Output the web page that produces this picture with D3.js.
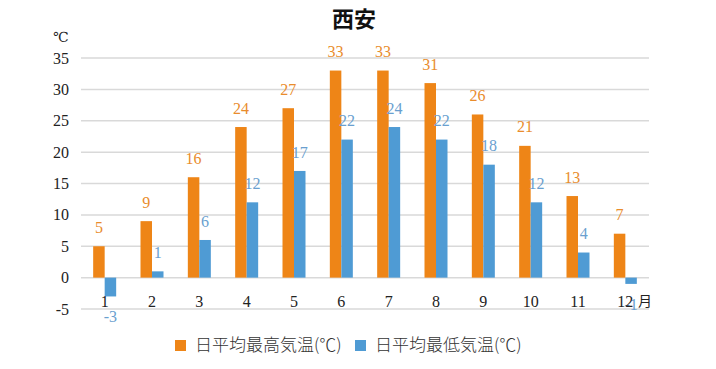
<!DOCTYPE html>
<html>
<head>
<meta charset="utf-8">
<script src="https://cdn.jsdelivr.net/npm/d3@7"></script>
<style>
	body { margin: 0; background: #fff; }
	.num { font-family: "Times New Roman", "Liberation Serif", "DejaVu Serif", serif; }
</style>
</head>
<body>
<div id="main"></div>
<script>
// monthly data, Xi'an
let months = ["1", "2", "3", "4", "5", "6", "7", "8", "9", "10", "11", "12"];
let high_temp = [5, 9, 16, 24, 27, 33, 33, 31, 26, 21, 13, 7];
let low_temp = [-3, 1, 6, 12, 17, 22, 24, 22, 18, 12, 4, -1];
let y_ticks = [-5, 0, 5, 10, 15, 20, 25, 30, 35];
let series_names = ["日平均最高気温(℃)", "日平均最低気温(℃)"];

let width = 716, height = 369;
let margin = {top: 58, right: 67, bottom: 60, left: 81};
let bar_colors = ["#ee8517", "#4f9bd4"];
let label_colors = ["#e98c2c", "#6a9fcf"];
let cjk = '"Noto Sans CJK JP", "Noto Sans CJK SC", sans-serif';

let svg = d3.select("#main").append("svg")
	.attr("width", width).attr("height", height);

let x = d3.scaleBand().domain(months)
	.range([margin.left, width - margin.right]);
let y = d3.scaleLinear().domain([-5, 35])
	.range([height - margin.bottom, margin.top]);

// gridlines
svg.append("g").selectAll("line")
	.data(y_ticks).enter()
	.append("line")
	.attr("x1", margin.left).attr("x2", width - margin.right)
	.attr("y1", function (d) { return y(d); })
	.attr("y2", function (d) { return y(d); })
	.attr("stroke", "#d9d9d9").attr("stroke-width", 1.5);

// y tick labels
svg.append("g").selectAll("text")
	.data(y_ticks).enter()
	.append("text")
	.attr("class", "num")
	.attr("x", 69).attr("y", function (d) { return y(d); })
	.attr("dy", "0.35em")
	.attr("text-anchor", "end")
	.style("font-size", "16px").attr("fill", "#222")
	.text(function (d) { return d; });

svg.append("text").attr("class", "num").attr("x", 53).attr("y", 42)
	.style("font-size", "14px").attr("fill", "#222").text("℃");

// bars
let bar_w = 11.5;
let data_sets = [high_temp, low_temp];
data_sets.forEach(function (vals, k) {
	let g = svg.append("g");
	g.selectAll("rect")
		.data(vals).enter()
		.append("rect")
		.attr("x", function (d, i) { return x(months[i]) + x.bandwidth() / 2 - bar_w + k * bar_w; })
		.attr("width", bar_w)
		.attr("y", function (d) { return y(Math.max(0, d)); })
		.attr("height", function (d) { return Math.abs(y(d) - y(0)); })
		.attr("fill", bar_colors[k]);
	g.selectAll("text")
		.data(vals).enter()
		.append("text")
		.attr("class", "num")
		.attr("x", function (d, i) { return x(months[i]) + x.bandwidth() / 2 - bar_w / 2 + k * bar_w; })
		.attr("y", function (d) { return d >= 0 ? y(d) - 19 : y(d) + 20; })
		.attr("dy", "0.35em")
		.attr("text-anchor", "middle")
		.style("font-size", "16px")
		.attr("fill", label_colors[k])
		.text(function (d) { return d; });
});

// month labels
svg.append("g").selectAll("text")
	.data(months).enter()
	.append("text")
	.attr("class", "num")
	.attr("x", function (d) { return x(d) + x.bandwidth() / 2; })
	.attr("y", 301)
	.attr("dy", "0.35em")
	.attr("text-anchor", "middle")
	.style("font-size", "16px").attr("fill", "#222")
	.text(function (d) { return d; });

svg.append("text").attr("x", 638).attr("y", 301).attr("dy", "0.35em")
	.style("font-family", cjk).style("font-size", "14px")
	.attr("fill", "#222").text("月");

// title
svg.append("text").attr("x", 354).attr("y", 19).attr("dy", "0.35em")
	.attr("text-anchor", "middle")
	.style("font-family", cjk).style("font-size", "22px").style("font-weight", "bold")
	.attr("fill", "#111").text("西安");

// legend
let legend_x = [175, 355];
series_names.forEach(function (name, k) {
	let lg = svg.append("g").attr("transform", "translate(" + legend_x[k] + ",340)");
	lg.append("rect").attr("width", 11).attr("height", 11).attr("fill", bar_colors[k]);
	lg.append("text").attr("x", 20).attr("y", 5.5).attr("dy", "0.35em")
		.style("font-family", cjk).style("font-size", "17px").style("font-weight", "300")
		.attr("fill", "#333").text(name);
});
</script>
</body>
</html>
